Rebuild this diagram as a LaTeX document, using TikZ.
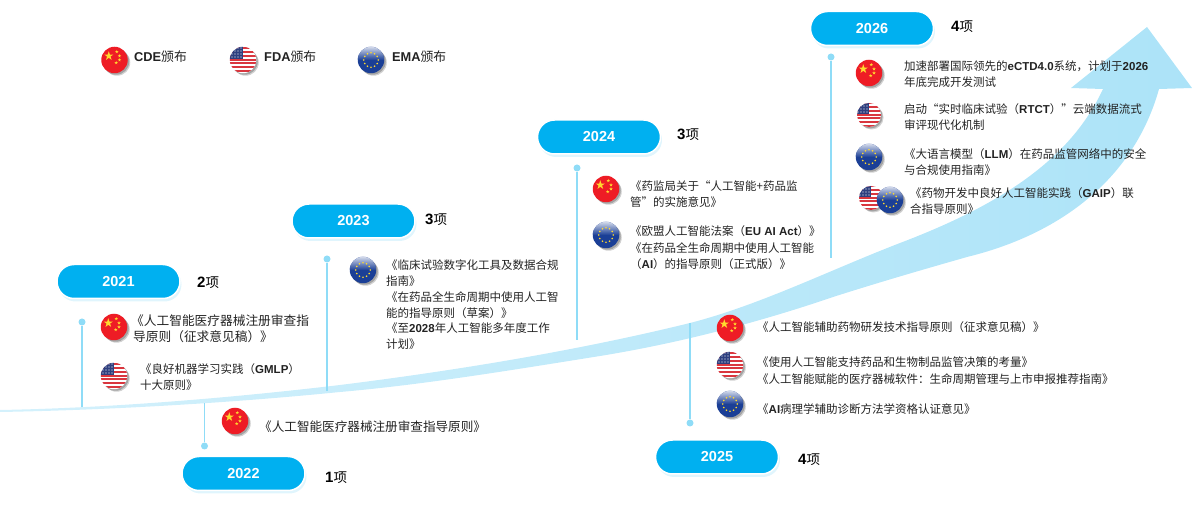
\documentclass[tikz,border=0pt]{standalone}
\usepackage{fontspec}
\setmainfont{Noto Sans CJK SC}
\newfontfamily\latinfont{Liberation Sans}
\usepackage{tikz}
\usetikzlibrary{shadows}
\definecolor{pillblue}{HTML}{00B0F0}
\definecolor{stemblue}{HTML}{8FDCF7}
\definecolor{arrowblue}{HTML}{ACE3F8}
\definecolor{arrowpale}{HTML}{D4F1FC}
\definecolor{flagred}{HTML}{EE1C25}
\definecolor{flagyellow}{HTML}{FFD92E}
\definecolor{usblue}{HTML}{2E3F7F}
\definecolor{usred}{HTML}{D9363E}
\definecolor{eublue}{HTML}{1B3F96}
\definecolor{inktext}{HTML}{222222}
\newcommand{\lat}[1]{{\latinfont\bfseries #1}}
\newcommand{\flagstar}[3]{\fill[flagyellow] ([shift={(90:#3)}]#1,#2) -- ([shift={(234:#3)}]#1,#2) -- ([shift={(18:#3)}]#1,#2) -- ([shift={(162:#3)}]#1,#2) -- ([shift={(306:#3)}]#1,#2) -- cycle;}
\newcommand{\cnbody}{\begin{scope}[shift={(path picture bounding box.center)},x=1pt,y=1pt]
  \flagstar{-5.7}{4}{4.8}
  \flagstar{2.3}{8.3}{1.8}
  \flagstar{5}{4}{1.8}
  \flagstar{5}{0}{1.8}
  \flagstar{1.7}{-2.7}{1.8}
\end{scope}}
\newcommand{\usbody}{\begin{scope}[shift={(path picture bounding box.center)},x=1pt,y=1pt]
  \foreach \ypos in {-12,-8.2,-4.4,-0.6,3.2,7,10.8}
    \fill[usred] (-14,\ypos) rectangle (14,\ypos+1.9);
  \fill[usblue] (-14,0.8) rectangle (0,14);
  \foreach \xpos in {-11,-8,-5,-2}
    \foreach \ypos in {3,6,9,12}
      \fill[white] (\xpos,\ypos) circle (0.6);
\end{scope}}
\newcommand{\eubody}{\begin{scope}[shift={(path picture bounding box.center)},x=1pt,y=1pt]
  \shade[top color=white!85!eublue,bottom color=eublue] (-14,14) rectangle (14,0);
  \foreach \ang in {0,30,...,330}
    \fill[flagyellow] (\ang:7.2) circle (0.9);
\end{scope}}
\begin{document}
\begin{tikzpicture}[x=1pt,y=-1pt]
        \tikzstyle{every node}+=[inner sep=0pt]
        \tikzstyle{flagshadow}=[drop shadow={shadow xshift=2.5pt,shadow yshift=-2.5pt,fill=black,opacity=.18},drop shadow={shadow xshift=1.5pt,shadow yshift=-1.5pt,fill=black,opacity=.22}]
        \tikzstyle{flag}=[circle,minimum size=26.5pt,flagshadow]
        \tikzstyle{cnflag}=[flag,fill=flagred,path picture={\cnbody}]
        \tikzstyle{usflag}=[flag,fill=white,path picture={\usbody}]
        \tikzstyle{euflag}=[flag,fill=eublue,path picture={\eubody}]
        \tikzstyle{yearpill}=[rounded corners=17pt,minimum width=123pt,minimum height=34pt,fill=pillblue,draw=white,line width=1.5pt,text=white,font=\latinfont\bfseries\fontsize{14.5}{16}\selectfont,drop shadow={shadow xshift=1.5pt,shadow yshift=-3pt,fill=pillblue!35,opacity=.35}]
        \tikzstyle{stemdot}=[circle,minimum size=7pt,fill=stemblue]
        \tikzstyle{stemline}=[stemblue,line width=1.2pt]
        \tikzstyle{itemtext}=[anchor=west,align=left,text=inktext,font=\fontsize{11.5}{16.4}\selectfont]
        \tikzstyle{widetext}=[itemtext,font=\fontsize{12.7}{16}\selectfont]
        \tikzstyle{counttext}=[anchor=west,text=black,font=\fontsize{13.5}{15}\selectfont]
        \tikzstyle{legendtext}=[anchor=west,text=inktext,font=\fontsize{12.8}{14}\selectfont]
        \useasboundingbox (0,0) rectangle (1192,510);
        \shade [left color=arrowpale,right color=arrowblue] (1147,27) -- (1192,88) -- (1159,89)
            .. controls (1135,175) and (1065,233) .. (967,257)
            .. controls (925,269) and (880,282) .. (833,297)
            .. controls (760,322) and (680,343) .. (600,356)
            .. controls (500,372) and (420,385) .. (340,392)
            .. controls (230,403) and (110,410) .. (0,412)
            -- (0,410)
            .. controls (110,408) and (230,398) .. (340,385)
            .. controls (460,370) and (580,350) .. (690,323)
            .. controls (760,305) and (830,270) .. (900,243)
            .. controls (1000,205) and (1070,160) .. (1103,89)
            -- (1071,88) -- cycle;
        \coordinate (foot21) at (82,407);
        \coordinate (foot22) at (204.5,403);
        \coordinate (foot23) at (327,391);
        \coordinate (foot24) at (577,340);
        \coordinate (foot25) at (690,323);
        \coordinate (foot26) at (831,258);
        \node [stemdot] (dot21) at (82,322) {};
        \node [stemdot] (dot22) at (204.5,446) {};
        \node [stemdot] (dot23) at (327,259) {};
        \node [stemdot] (dot24) at (577,168) {};
        \node [stemdot] (dot25) at (690,423) {};
        \node [stemdot] (dot26) at (831,57) {};
        \draw [stemline] (dot21) -- (foot21);
        \draw [stemline] (dot22) -- (foot22);
        \draw [stemline] (dot23) -- (foot23);
        \draw [stemline] (dot24) -- (foot24);
        \draw [stemline] (dot25) -- (foot25);
        \draw [stemline] (dot26) -- (foot26);
        \node [yearpill] (pill21) at (118.5,281.5) {2021};
        \node [yearpill] (pill22) at (243.5,473.5) {2022};
        \node [yearpill] (pill23) at (353.5,221) {2023};
        \node [yearpill] (pill24) at (599,137) {2024};
        \node [yearpill] (pill25) at (717,457) {2025};
        \node [yearpill] (pill26) at (872,28.5) {2026};
        \node [counttext] (count21) at (197,283) {\lat{\fontsize{15}{15}\selectfont 2}项};
        \node [counttext] (count22) at (325,478) {\lat{\fontsize{15}{15}\selectfont 1}项};
        \node [counttext] (count23) at (425,220) {\lat{\fontsize{15}{15}\selectfont 3}项};
        \node [counttext] (count24) at (677,135) {\lat{\fontsize{15}{15}\selectfont 3}项};
        \node [counttext] (count25) at (798,460) {\lat{\fontsize{15}{15}\selectfont 4}项};
        \node [counttext] (count26) at (951,27) {\lat{\fontsize{15}{15}\selectfont 4}项};
        \node [cnflag] (legendcn) at (114.5,60) {};
        \node [usflag] (legendus) at (243,60) {};
        \node [euflag] (legendeu) at (371,60) {};
        \node [legendtext] (legendcntext) at (134,57) {\lat{CDE}颁布};
        \node [legendtext] (legendustext) at (264,57) {\lat{FDA}颁布};
        \node [legendtext] (legendeutext) at (392,57) {\lat{EMA}颁布};
        \node [cnflag] (flag21a) at (114,327) {};
        \node [usflag] (flag21b) at (114,376) {};
        \node [cnflag] (flag22a) at (235,421) {};
        \node [euflag] (flag23a) at (363,270) {};
        \node [cnflag] (flag24a) at (606,189) {};
        \node [euflag] (flag24b) at (606,235) {};
        \node [cnflag] (flag25a) at (730,328) {};
        \node [usflag] (flag25b) at (730,365) {};
        \node [euflag] (flag25c) at (730,404) {};
        \node [cnflag] (flag26a) at (869,73) {};
        \node [usflag,minimum size=24pt] (flag26b) at (869,115) {};
        \node [euflag] (flag26c) at (869,157) {};
        \node [usflag,minimum size=24pt] (flag26d) at (871,198) {};
        \node [euflag] (flag26e) at (890,200) {};
        \node [widetext] (text21a) at (131,329) {《人工智能医疗器械注册审查指\\\hspace*{2pt}导原则（征求意见稿）》};
        \node [itemtext] (text21b) at (140,377) {《良好机器学习实践（\lat{GMLP}）\\十大原则》};
        \node [itemtext,font=\fontsize{12.6}{16}\selectfont] (text22a) at (259,427) {《人工智能医疗器械注册审查指导原则》};
        \node [itemtext] (text23a) at (386,273) {《临床试验数字化工具及数据合规\\指南》};
        \node [itemtext] (text23b) at (386,305) {《在药品全生命周期中使用人工智\\能的指导原则（草案）》};
        \node [itemtext] (text23c) at (386,336) {《至\lat{2028}年人工智能多年度工作\\计划》};
        \node [itemtext] (text24a) at (630,194) {《药监局关于“人工智能+药品监\\管”的实施意见》};
        \node [itemtext] (text24b) at (630,231) {《欧盟人工智能法案（\lat{EU AI Act}）》};
        \node [itemtext] (text24c) at (630,256) {《在药品全生命周期中使用人工智能\\（\lat{AI}）的指导原则（正式版）》};
        \node [itemtext] (text25a) at (757,327) {《人工智能辅助药物研发技术指导原则（征求意见稿）》};
        \node [itemtext] (text25b) at (757,362) {《使用人工智能支持药品和生物制品监管决策的考量》};
        \node [itemtext] (text25c) at (757,379) {《人工智能赋能的医疗器械软件：生命周期管理与上市申报推荐指南》};
        \node [itemtext] (text25d) at (757,409) {《\lat{AI}病理学辅助诊断方法学资格认证意见》};
        \node [itemtext] (text26a) at (904,74) {加速部署国际领先的\lat{eCTD4.0}系统，计划于\lat{2026}\\年底完成开发测试};
        \node [itemtext] (text26b) at (904,117) {启动“实时临床试验（\lat{RTCT}）”云端数据流式\\审评现代化机制};
        \node [itemtext] (text26c) at (904,162) {《大语言模型（\lat{LLM}）在药品监管网络中的安全\\与合规使用指南》};
        \node [itemtext] (text26d) at (910,201) {《药物开发中良好人工智能实践（\lat{GAIP}）联\\合指导原则》};
    \end{tikzpicture}
\end{document}
